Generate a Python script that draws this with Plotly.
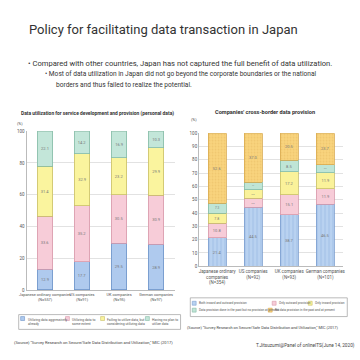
import plotly.graph_objects as go

# ---------------- data ----------------
left_categories = ["Japanese ordinary companies<br>(N=557)", "US companies<br>(N=91)",
                   "UK companies<br>(N=95)", "German companies<br>(N=97)"]
left_aggressive = [12.9, 17.7, 29.5, 28.9]
left_some_extent = [33.6, 35.2, 30.5, 30.9]
left_considering = [31.4, 32.9, 23.2, 29.9]
left_no_plan = [22.1, 14.2, 16.9, 10.3]
left_series_names = ["Utilizing data aggressively<br>already", "Utilizing data to<br>some extent",
                     "Failing to utilize data, but<br>considering utilizing data", "Having no plan to<br>utilize data"]

right_categories = ["Japanese ordinary<br>companies<br>(N=354)", "US companies<br>(N=92)",
                    "UK companies<br>(N=93)", "German companies<br>(N=101)"]
right_both = [21.4, 44.5, 38.7, 46.5]
right_outward = [10.8, 6.5, 15.1, 11.9]
right_inward = [7.8, 6.5, 17.2, 11.9]
right_past_only = [7.3, 5.5, 8.5, 6.0]
right_none = [52.6, 37.0, 20.5, 23.7]
right_series_names = ["Both inward and outward provision", "Only outward provision", "Only inward provision",
                      "Data provision done in the past but no provision at present",
                      "No data provision in the past and at present"]

left_ticks = [0, 20, 40, 60, 80, 100]
right_ticks = [0, 10, 20, 30, 40, 50, 60, 70, 80, 90, 100]

# ---------------- style ----------------
FONT = "Roboto, Liberation Sans, Arial, sans-serif"
TXT = "#444"
W = H = 360
def px(x): return x / W
def py(y): return 1 - y / H

left_colors = ["#afcaee", "#f7ccd8", "#faf49e", "#c3e6d9"]
left_edges = ["#6e93c8", "#d79aab", "#c9bf6a", "#86bba6"]
right_colors = ["#b9d2f0", "#f7ccd8", "#faf29a", "#bfe5d6", "#f9d47e"]
right_edges = ["#7c9fd0", "#d79aab", "#c9bf6a", "#86bba6", "#d8aa50"]

fig = go.Figure()

left_vals = [left_aggressive, left_some_extent, left_considering, left_no_plan]
for vals, name, c, e in zip(left_vals, left_series_names, left_colors, left_edges):
    fig.add_trace(go.Bar(
        x=left_categories, y=vals, name=name, xaxis="x", yaxis="y",
        marker=dict(color=c, line=dict(color=e, width=0.8)),
        text=[f"{v:.1f}" for v in vals], textposition="inside", insidetextanchor="middle",
        textangle=0, textfont=dict(size=4, color="#777", family=FONT), width=0.42,
        showlegend=False))

right_vals = [right_both, right_outward, right_inward, right_past_only, right_none]
patterns = ["|", "", "", "", "."]
for i, (vals, name, c, e) in enumerate(zip(right_vals, right_series_names, right_colors, right_edges)):
    pat = dict(shape=patterns[i])
    if patterns[i] == "|":
        pat = dict(shape="|", fgcolor="#8fb0e0", bgcolor=c, size=4, solidity=0.3)
    elif patterns[i] == ".":
        pat = dict(shape=".", fgcolor="#e6b860", bgcolor=c, size=3, solidity=0.3)
    fig.add_trace(go.Bar(
        x=right_categories, y=vals, name=name, xaxis="x2", yaxis="y2",
        marker=dict(color=c, line=dict(color=e, width=0.8), pattern=pat),
        text=[f"{v:.1f}" for v in vals], textposition="inside", insidetextanchor="middle",
        textangle=0, textfont=dict(size=4, color="#777", family=FONT), width=0.5,
        showlegend=False))

axis_common = dict(showline=True, linecolor="#bbb", linewidth=1, ticks="")
fig.update_layout(
    width=W, height=H, margin=dict(l=0, r=0, t=0, b=0),
    paper_bgcolor="white", plot_bgcolor="white", barmode="stack",
    font=dict(family=FONT, color=TXT),
    xaxis=dict(domain=[px(20), px(172)], anchor="y", tickangle=0,
               tickfont=dict(size=3.9, color="#555", family=FONT), **axis_common),
    yaxis=dict(domain=[py(292), py(131)], anchor="x", range=[0, 100], tickvals=left_ticks,
               tickfont=dict(size=4.5, color="#555", family=FONT),
               showgrid=True, gridcolor="#e2e2e2", gridwidth=1, **axis_common),
    xaxis2=dict(domain=[px(197), px(345)], anchor="y2", tickangle=0,
                tickfont=dict(size=4.5, color="#555", family=FONT), **axis_common),
    yaxis2=dict(domain=[py(268), py(133)], anchor="x2", range=[0, 100], tickvals=right_ticks,
                tickfont=dict(size=4.5, color="#555", family=FONT),
                showgrid=True, gridcolor="#e2e2e2", gridwidth=1, **axis_common),
)

ann = []
def text(x, y, s, size, anchor="left", bold=False, color=TXT, yanchor="middle"):
    if bold:
        s = f"<b>{s}</b>"
    ann.append(dict(x=px(x), y=py(y), xref="paper", yref="paper", text=s, showarrow=False,
                    xanchor=anchor, yanchor=yanchor, align="left",
                    font=dict(size=size, color=color, family=FONT)))

# header (centre-anchored at the centre of each reference line)
text(161, 28, "Policy for facilitating data transaction in Japan", 13.0, anchor="center", color="#333")
text(177.5, 62, "• Compared with other countries, Japan has not captured the full benefit of data utilization.", 7.6, anchor="center", color="#333")
text(178, 73, "• Most of data utilization in Japan did not go beyond the corporate boundaries or the national", 6.6, anchor="center", color="#333")
text(120, 84, "borders and thus failed to realize the potential.", 6.6, anchor="center", color="#333")

# chart titles
text(93, 113, "Data utilization for service development and provision (personal data)", 4.9, anchor="center", bold=True, color="#333")
text(265, 112, "Companies' cross-border data provision", 5.6, anchor="center", bold=True, color="#333")
text(13, 123, "(%)", 4, anchor="center", color="#555")
text(192, 119, "(%)", 4, anchor="center", color="#555")

# left legend
shapes = []
shapes.append(dict(type="rect", xref="paper", yref="paper", x0=px(12), x1=px(178), y0=py(332), y1=py(317),
                   line=dict(color="#aaa", width=0.8), fillcolor="white", layer="below"))
left_leg_x = [14, 60, 96, 142]
for lx, name, c, e in zip(left_leg_x, left_series_names, left_colors, left_edges):
    shapes.append(dict(type="rect", xref="paper", yref="paper", x0=px(lx), x1=px(lx + 4),
                       y0=py(323), y1=py(319), fillcolor=c, line=dict(color=e, width=0.6)))
    text(lx + 5, 318.5, name, 3.4, yanchor="top", color="#555")

# right legend
shapes.append(dict(type="rect", xref="paper", yref="paper", x0=px(188), x1=px(349), y0=py(319), y1=py(300),
                   line=dict(color="#aaa", width=0.8), fillcolor="white", layer="below"))
right_leg_pos = [(190, 305.5), (272, 305.5), (309, 305.5), (190, 312.5), (268, 312.5)]
for (lx, ly), name, c, e in zip(right_leg_pos, right_series_names, right_colors, right_edges):
    shapes.append(dict(type="rect", xref="paper", yref="paper", x0=px(lx), x1=px(lx + 4),
                       y0=py(ly + 2), y1=py(ly - 2), fillcolor=c, line=dict(color=e, width=0.6)))
    text(lx + 5, ly, name, 3.1, color="#555")

# sources
text(88.5, 345, "(Source) \"Survey Research on Secure/Safe Data Distribution and Utilization,\" MIC (2017)", 4.1, anchor="center", color="#444")
text(262.5, 330, "(Source) \"Survey Research on Secure/Safe Data Distribution and Utilization,\" MIC (2017)", 3.9, anchor="center", color="#444")
text(306, 348, "T.Jitsuzumi@Panel of onlineITS(June 14, 2020)", 4.7, anchor="center", color="#444")

fig.update_layout(annotations=ann, shapes=shapes)
fig.write_html("out.html", config={"displayModeBar": False},
               post_script="document.body.style.margin='0px';document.body.style.overflow='hidden';")
